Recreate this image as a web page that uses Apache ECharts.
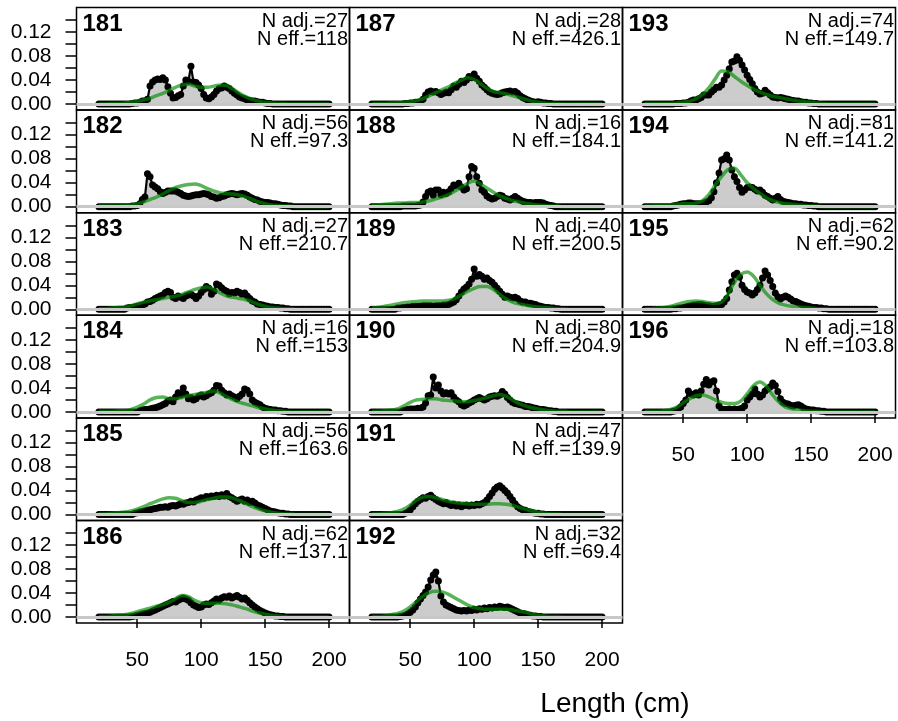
<!DOCTYPE html>
<html><head><meta charset="utf-8">
<script src="https://cdn.jsdelivr.net/npm/echarts@6/dist/echarts.min.js"></script>
<style>html,body{margin:0;padding:0;background:#fff}#c{width:898px;height:721px}</style>
</head><body><div id="c"></div><script>
// ---------------- data ----------------
const panelIds = [181,182,183,184,185,186,187,188,189,190,191,192,193,194,195,196];
const nAdj = [27,56,27,16,56,62,28,16,40,80,47,32,74,81,62,18];
const nEff = [118,97.3,210.7,153,163.6,137.1,426.1,184.1,200.5,204.9,139.9,69.4,149.7,141.2,90.2,103.8];
const xTickVals = [50,100,150,200];
const yTickVals = [0,0.02,0.04,0.06,0.08,0.10,0.12,0.14];
const yLabelVals = [0,0.04,0.08,0.12];
const xLabel = 'Length (cm)';
// observed length bins (cm), 20..200 by 2
const lenBins = [20,22,24,26,28,30,32,34,36,38,40,42,44,46,48,50,52,54,56,58,60,62,64,66,68,70,72,74,76,78,80,82,84,86,88,90,92,94,96,98,100,102,104,106,108,110,112,114,116,118,120,122,124,126,128,130,132,134,136,138,140,142,144,146,148,150,152,154,156,158,160,162,164,166,168,170,172,174,176,178,180,182,184,186,188,190,192,194,196,198,200];
// expected curve lengths (cm)
const expLen = [20,25,30,35,40,45,50,55,60,65,70,75,80,85,90,95,100,105,110,115,120,125,130,135,140,145,150,155,160,165,170,175,180,185,190,195,200];
// proportions, in thousandths
const obs181 = [0,0,0,0,0,0,0,0,0,0, 0,0,0,1,2,2,3,5,5,8, 30,37,40,42,41,44,40,29,18,10, 11,14,16,30,40,38,63,37,36,32, 26,16,10,9,12,16,22,26,27,30, 28,26,22,18,15,12,10,9,7,6, 5,5,4,3,3,2,1,1,0,0, 0,0,0,0,0,0,0,0,0,0, 0,0,0,0,0,0,0,0,0,0, 0];
const obs182 = [0,0,0,0,0,0,0,0,0,0, 0,0,0,1,1,2,5,12,16,55, 50,36,33,30,25,22,24,26,26,26, 26,24,22,19,18,17,18,19,20,20, 21,22,21,20,17,16,14,15,17,18, 20,21,22,21,20,21,22,21,19,16, 14,12,11,9,8,7,7,6,5,5, 4,3,2,2,1,1,0,0,0,0, 0,0,0,0,0,0,0,0,0,0, 0];
const obs183 = [0,0,0,0,0,0,0,0,0,0, 0,2,3,3,4,5,6,7,9,12, 13,15,18,20,22,24,28,30,28,20, 18,22,20,18,22,24,25,22,18,22, 28,33,38,35,25,30,42,40,36,32, 30,26,28,27,30,28,25,27,22,18, 14,12,9,8,7,6,5,4,4,3, 3,2,2,1,1,0,0,0,0,0, 0,0,0,0,0,0,0,0,0,0, 0];
const obs184 = [0,0,0,0,0,0,0,0,0,0, 0,0,0,0,0,0,2,3,4,4, 5,6,7,8,10,12,14,18,20,17, 25,32,28,40,30,22,24,20,22,26, 28,25,27,30,32,36,44,43,36,32, 28,30,27,25,22,26,30,38,36,30, 20,16,14,12,8,6,5,4,3,3, 2,2,1,1,0,0,0,0,0,0, 0,0,0,0,0,0,0,0,0,0, 0];
const obs185 = [0,0,0,0,0,0,0,0,0,0, 0,0,0,0,2,3,4,5,6,7, 8,9,10,11,12,12,13,12,14,15, 14,16,18,17,19,20,22,21,24,26, 28,27,30,29,31,30,32,30,33,31, 35,30,28,25,22,24,26,22,24,20, 22,19,16,14,12,10,8,6,5,4, 3,2,2,1,1,0,0,0,0,0, 0,0,0,0,0,0,0,0,0,0, 0];
const obs186 = [0,0,0,0,0,0,0,0,0,0, 0,0,0,1,2,3,4,5,6,7, 8,10,12,14,16,18,20,22,24,26, 25,28,30,32,30,28,24,20,18,16, 17,20,22,21,24,27,30,28,32,34, 33,35,32,34,36,33,30,32,28,24, 20,17,14,11,9,7,5,4,3,2, 2,1,1,0,0,0,0,0,0,0, 0,0,0,0,0,0,0,0,0,0, 0];
const obs187 = [0,0,0,0,0,0,0,0,0,0, 0,0,0,1,1,2,2,3,3,4, 8,15,20,22,20,21,19,16,18,20, 19,24,30,28,33,38,36,40,46,44, 50,43,38,32,28,24,20,18,17,16, 17,19,20,21,22,20,21,18,14,11, 9,7,5,4,3,4,3,2,2,1, 1,0,0,0,0,0,0,0,0,0, 0,0,0,0,0,0,0,0,0,0, 0];
const obs188 = [0,0,0,0,0,0,0,0,0,0, 0,0,1,1,1,1,1,1,2,3, 8,17,24,26,19,28,28,20,24,22, 25,30,36,35,39,33,28,30,50,67, 64,50,39,28,24,18,15,13,14,17, 19,18,14,13,11,14,17,14,11,9, 8,7,7,6,7,7,7,6,4,3, 2,1,0,0,0,0,0,0,0,0, 0,0,0,0,0,0,0,0,0,0, 0];
const obs189 = [0,0,0,0,0,0,0,0,0,0, 2,2,3,3,4,4,5,5,5,5, 6,6,6,6,5,6,6,6,7,7, 8,10,12,16,22,29,34,37,42,50, 67,55,58,55,50,52,48,45,40,35, 30,25,20,22,20,19,20,18,14,12, 12,10,10,9,8,6,5,4,3,3, 2,2,1,1,0,0,0,0,0,0, 0,0,0,0,0,0,0,0,0,0, 0];
const obs190 = [0,0,0,0,0,0,0,0,0,0, 0,0,2,3,4,5,5,5,6,6, 8,15,27,28,58,40,45,35,30,32, 30,32,25,20,17,12,10,12,15,17, 20,22,24,22,20,22,25,26,27,26, 28,34,30,24,20,16,14,13,12,11, 9,9,8,7,6,5,4,4,3,2, 2,1,1,0,0,0,0,0,0,0, 0,0,0,0,0,0,0,0,0,0, 0];
const obs191 = [0,0,0,0,0,0,0,0,0,0, 0,0,0,2,4,8,13,18,22,25, 28,27,30,32,28,25,22,20,18,20, 17,15,17,14,16,13,15,16,14,16, 15,17,16,18,20,24,30,36,42,46, 48,44,40,36,30,24,18,13,10,8, 7,5,4,3,2,2,1,1,0,0, 0,0,0,0,0,0,0,0,0,0, 0,0,0,0,0,0,0,0,0,0, 0];
const obs192 = [0,0,0,0,0,0,0,0,0,0, 0,1,2,3,5,8,12,17,24,30, 36,42,50,62,70,75,60,35,25,20, 18,16,14,12,11,10,11,10,12,11, 13,12,14,13,15,14,16,15,17,16, 18,17,16,17,15,13,11,9,7,6, 5,4,3,2,2,1,1,0,0,0, 0,0,0,0,0,0,0,0,0,0, 0,0,0,0,0,0,0,0,0,0, 0];
const obs193 = [0,0,0,0,0,0,0,0,0,0, 0,0,1,1,1,2,2,3,5,7, 7,9,11,15,15,15,20,24,28,28, 32,40,48,59,70,72,79,73,65,57, 48,41,34,26,20,17,18,23,19,15, 12,11,10,11,10,9,8,7,6,5, 5,4,3,3,2,2,1,1,0,0, 0,0,0,0,0,0,0,0,0,0, 0,0,0,0,0,0,0,0,0,0, 0];
const obs194 = [0,0,0,0,0,0,0,0,0,0, 0,1,2,3,4,5,5,6,6,5, 5,5,5,6,8,10,15,25,40,56, 78,80,86,78,61,50,42,32,24,28, 32,33,32,29,26,28,24,19,17,14, 11,14,17,12,9,8,7,6,5,5, 4,4,3,3,2,2,1,1,0,0, 0,0,0,0,0,0,0,0,0,0, 0,0,0,0,0,0,0,0,0,0, 0];
const obs195 = [0,0,0,0,0,0,0,0,0,0, 0,1,1,2,2,3,4,5,6,7, 7,8,8,7,6,6,5,5,6,7, 8,12,18,32,46,57,60,54,40,33, 29,27,24,27,33,40,52,64,57,48, 38,27,21,17,20,22,20,17,14,13, 11,9,7,6,5,4,3,3,2,2, 1,1,0,0,0,0,0,0,0,0, 0,0,0,0,0,0,0,0,0,0, 0];
const obs196 = [0,0,0,0,0,0,0,0,0,0, 0,1,2,4,8,14,20,35,30,28, 32,28,35,46,54,45,50,52,35,10, 5,4,4,5,4,5,4,5,6,10, 20,25,30,38,30,25,28,35,38,42, 48,44,34,22,16,14,13,11,10,11, 12,10,7,5,4,3,3,2,2,1, 1,0,0,0,0,0,0,0,0,0, 0,0,0,0,0,0,0,0,0,0, 0];
const exp181 = [0,0,1,1,2,3,5,7,10,14, 18,23,28,32,33,30,28,28,30,32, 31,25,18,12,8,5,3,2,1,1, 0,0,0,0,0,0,0];
const exp182 = [1,1,1,1,2,3,5,8,12,16, 21,27,32,35,37,38,35,30,26,23, 22,21,19,16,12,8,5,3,2,1, 1,0,0,0,0,0,0];
const exp183 = [1,1,2,3,4,6,9,12,14,16, 18,20,22,25,29,33,36,37,33,27, 22,20,18,16,12,8,5,3,2,1, 1,0,0,0,0,0,0];
const exp184 = [1,1,1,2,2,4,8,13,20,24, 25,22,22,24,27,29,31,33,35,31, 25,20,16,13,10,7,5,3,2,1, 0,0,0,0,0,0,0];
const exp185 = [1,1,2,3,4,6,9,13,18,22, 26,28,27,23,20,20,22,25,27,29, 29,27,23,18,13,9,6,4,2,1, 1,0,0,0,0,0,0];
const exp186 = [1,1,2,3,4,6,9,12,15,18, 21,25,31,36,34,28,24,23,23,23, 22,20,17,14,10,7,5,3,2,1, 0,0,0,0,0,0,0];
const exp187 = [1,1,1,2,2,3,4,6,9,14, 19,24,29,35,40,44,41,34,26,21, 19,17,14,11,8,5,3,2,1,1, 0,0,0,0,0,0,0];
const exp188 = [2,3,4,5,6,6,7,7,8,10, 13,16,20,26,33,39,43,38,31,24, 18,14,10,8,6,4,3,2,1,1, 0,0,0,0,0,0,0];
const exp189 = [2,3,5,7,9,11,12,13,14,14, 14,14,15,18,24,30,35,38,38,33, 25,17,12,9,7,5,4,3,2,1, 1,0,0,0,0,0,0];
const exp190 = [1,1,2,3,5,10,16,20,21,22, 22,20,19,18,17,17,19,21,24,27, 29,26,20,14,10,7,5,3,2,1, 1,0,0,0,0,0,0];
const exp191 = [1,1,2,3,5,9,16,24,29,30, 28,25,22,20,19,18,17,17,17,18, 18,17,15,12,9,6,4,2,1,1, 0,0,0,0,0,0,0];
const exp192 = [1,1,2,4,6,10,17,26,35,41, 43,42,38,32,26,20,16,14,13,13, 13,13,12,10,8,5,3,2,1,1, 0,0,0,0,0,0,0];
const exp193 = [1,1,1,1,1,2,3,5,9,16, 27,42,55,54,46,38,31,25,20,16, 13,11,9,7,5,4,3,2,1,0, 0,0,0,0,0,0,0];
const exp194 = [1,1,2,2,3,4,5,5,6,10, 20,36,50,62,64,53,40,30,22,15, 10,7,5,4,3,2,1,1,0,0, 0,0,0,0,0,0,0];
const exp195 = [1,1,2,3,5,8,11,13,14,13, 11,10,12,25,45,58,62,55,40,26, 16,10,7,5,4,3,2,1,1,0, 0,0,0,0,0,0,0];
const exp196 = [1,1,1,2,4,8,15,22,27,28, 25,20,16,14,14,18,30,44,50,43, 28,16,8,5,3,2,1,1,0,0, 0,0,0,0,0,0,0];
const obsList = [obs181,obs182,obs183,obs184,obs185,obs186,obs187,obs188,obs189,obs190,obs191,obs192,obs193,obs194,obs195,obs196];
const expList = [exp181,exp182,exp183,exp184,exp185,exp186,exp187,exp188,exp189,exp190,exp191,exp192,exp193,exp194,exp195,exp196];

// ---------------- layout ----------------
const FAM = "'Liberation Sans', Arial, Helvetica, sans-serif";
const PL = 76.5, PW = 273, PT = 7.5, PH = 102.6;
const grids = [], xAxes = [], yAxes = [], series = [], graphics = [];
panelIds.forEach((id, i) => {
  const col = i < 6 ? 0 : (i < 12 ? 1 : 2);
  const row = col === 2 ? i - 12 : i % 6;
  const isBottom = (col < 2 && row === 5) || (col === 2 && row === 3);
  const gl = PL + col * PW, gt = PT + row * PH;
  grids.push({left: gl, top: gt, width: PW, height: PH, show: true, borderColor: '#000', borderWidth: 1.5, backgroundColor: 'transparent'});
  xAxes.push({
    gridIndex: i, type: 'value', min: 2.5, max: 216,
    splitLine: {show: false}, axisLine: {show: false},
    axisTick: {show: isBottom, customValues: xTickVals, length: 11, lineStyle: {color: '#000', width: 1.5}},
    axisLabel: {show: isBottom, customValues: xTickVals, margin: 27, fontSize: 21, color: '#000', fontFamily: FAM}
  });
  yAxes.push({
    gridIndex: i, type: 'value', min: -0.01, max: 0.161,
    splitLine: {show: false}, axisLine: {show: false},
    axisTick: {show: col === 0, customValues: yTickVals, length: 11, lineStyle: {color: '#000', width: 1.5}},
    axisLabel: {show: col === 0, customValues: yLabelVals, margin: 25, fontSize: 21, color: '#000', fontFamily: FAM,
      formatter: v => Number(v).toFixed(2)}
  });
  // zero reference line
  series.push({
    type: 'line', xAxisIndex: i, yAxisIndex: i, data: [], z: 1, silent: true,
    markLine: {silent: true, symbol: 'none', animation: false, label: {show: false},
      lineStyle: {color: '#c8c8c8', width: 3, type: 'solid'}, data: [{yAxis: 0}]}
  });
  // observed
  const obs = obsList[i];
  series.push({
    type: 'line', xAxisIndex: i, yAxisIndex: i, z: 2,
    data: lenBins.map((L, k) => [L, obs[k] / 1000]),
    symbol: 'circle', symbolSize: 7, showSymbol: true, showAllSymbol: true,
    lineStyle: {color: '#000', width: 2.2}, itemStyle: {color: '#000'},
    areaStyle: {color: '#cccccc', opacity: 1}
  });
  // expected
  const ex = expList[i];
  series.push({
    type: 'line', xAxisIndex: i, yAxisIndex: i, z: 3,
    data: expLen.map((L, k) => [L, ex[k] / 1000]),
    smooth: 0.35, symbol: 'none',
    lineStyle: {color: 'rgba(0,140,0,0.65)', width: 3.5}
  });
  graphics.push({type: 'text', x: gl + 6, y: gt + 16.5, z: 10,
    style: {text: String(id), font: 'bold 24px ' + FAM, fill: '#000', align: 'left', verticalAlign: 'middle', textAlign: 'left', textVerticalAlign: 'middle'}});
  graphics.push({type: 'text', x: gl + PW - 1.5, y: gt + 13.6, z: 10,
    style: {text: 'N adj.=' + nAdj[i], font: '20px ' + FAM, fill: '#000', align: 'right', verticalAlign: 'middle', textAlign: 'right', textVerticalAlign: 'middle'}});
  graphics.push({type: 'text', x: gl + PW - 1.5, y: gt + 31.6, z: 10,
    style: {text: 'N eff.=' + nEff[i], font: '20px ' + FAM, fill: '#000', align: 'right', verticalAlign: 'middle', textAlign: 'right', textVerticalAlign: 'middle'}});
});
graphics.push({type: 'text', x: 615, y: 704, z: 10,
  style: {text: xLabel, font: '28px ' + FAM, fill: '#000', align: 'center', verticalAlign: 'middle', textAlign: 'center', textVerticalAlign: 'middle'}});

const chart = echarts.init(document.getElementById('c'), null, {renderer: 'canvas'});
chart.setOption({
  animation: false, backgroundColor: '#fff',
  grid: grids, xAxis: xAxes, yAxis: yAxes, series: series, graphic: graphics
});
</script></body></html>
